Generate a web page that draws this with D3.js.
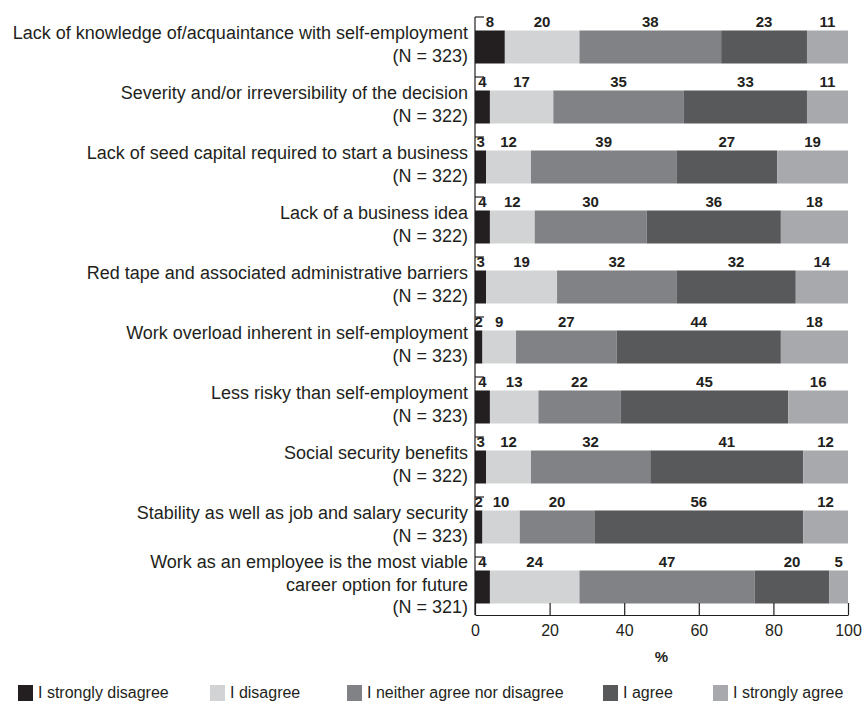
<!DOCTYPE html>
<html><head><meta charset="utf-8">
<script src="https://cdn.jsdelivr.net/npm/d3@7"></script>
<style>body{margin:0;background:#fff;} svg{display:block;font-family:"Liberation Sans",Arial,sans-serif;}</style>
</head><body>
<svg id="c" width="862" height="702"></svg>
<script>
const categories = [
  ["Lack of knowledge of/acquaintance with self-employment","(N = 323)"],
  ["Severity and/or irreversibility of the decision","(N = 322)"],
  ["Lack of seed capital required to start a business","(N = 322)"],
  ["Lack of a business idea","(N = 322)"],
  ["Red tape and associated administrative barriers","(N = 322)"],
  ["Work overload inherent in self-employment","(N = 323)"],
  ["Less risky than self-employment","(N = 323)"],
  ["Social security benefits","(N = 322)"],
  ["Stability as well as job and salary security","(N = 323)"],
  ["Work as an employee is the most viable","career option for future","(N = 321)"]
];
const seriesNames = ["I strongly disagree","I disagree","I neither agree nor disagree","I agree","I strongly agree"];
const stronglyDisagree = [8,4,3,4,3,2,4,3,2,4];
const disagree        = [20,17,12,12,19,9,13,12,10,24];
const neither         = [38,35,39,30,32,27,22,32,20,47];
const agree           = [23,33,27,36,32,44,45,41,56,20];
const stronglyAgree   = [11,11,19,18,14,18,16,12,12,5];
const xTicks = [0,20,40,60,80,100];
const colors = ["#231f20","#d1d3d4","#808285","#58595b","#a7a9ac"];

const series = [stronglyDisagree, disagree, neither, agree, stronglyAgree];
const keys = categories.map((c,i)=>"c"+i);
const rows = keys.map((k,i)=>{const o={key:k}; seriesNames.forEach((s,j)=>o[s]=series[j][i]); return o;});
const stacked = d3.stack().keys(seriesNames)(rows);

const svg = d3.select("#c");
const x = d3.scaleLinear().domain([0,100]).range([475,848]);
const y = d3.scaleBand().domain(keys).range([17,617]).paddingInner(0.45).paddingOuter(0.225);
const step = y.step();

// bars
svg.append("g").selectAll("g").data(stacked).join("g")
  .attr("fill",(d,i)=>colors[i])
  .selectAll("rect").data(d=>d).join("rect")
  .attr("x",d=>x(d[0])).attr("width",d=>x(d[1])-x(d[0]))
  .attr("y",d=>y(d.data.key)).attr("height",y.bandwidth());

// value labels
svg.append("g").selectAll("g").data(stacked).join("g")
  .selectAll("text").data(d=>d.map(v=>({v, key:d.key}))).join("text")
  .attr("x",d=>(x(d.v[0])+x(d.v[1]))/2)
  .attr("y",d=>y(d.v.data.key)-4)
  .attr("text-anchor","middle")
  .attr("font-size",15).attr("font-weight","bold").attr("fill","#231f20")
  .text(d=>d.v.data[d.key]);

// left axis line and boundary ticks
const axisCol = "#231f20";
svg.append("line").attr("x1",x(0)).attr("x2",x(0)).attr("y1",17).attr("y2",615).attr("stroke",axisCol).attr("stroke-width",1.2);
const bounds = keys.map(k=>y(k)-step*y.paddingInner()/2);
svg.append("g").selectAll("line").data(bounds).join("line")
  .attr("x1",x(0)).attr("x2",x(0)+9).attr("y1",d=>d).attr("y2",d=>d)
  .attr("stroke",axisCol).attr("stroke-width",1.2);

// bottom axis
const gx = svg.append("g").attr("transform","translate(0,615)")
  .call(d3.axisBottom(x).tickValues(xTicks).tickSize(-12).tickPadding(10).tickSizeOuter(0));
gx.select(".domain").attr("stroke",axisCol).attr("stroke-width",1.2);
gx.selectAll(".tick line").attr("stroke",axisCol).attr("stroke-width",1.2);
gx.selectAll("text").attr("font-size",16).attr("fill","#231f20").attr("font-family","Liberation Sans, Arial, sans-serif");

svg.append("text").attr("x",x(50)).attr("y",662).attr("text-anchor","middle")
  .attr("font-size",15).attr("font-weight","bold").attr("fill","#231f20").text("%");

// category labels
const lineH = 22.5;
svg.append("g").selectAll("text").data(categories).join("text")
  .attr("text-anchor","end").attr("font-size",18).attr("fill","#231f20")
  .each(function(lines,i){
    const cy = y(keys[i]) + y.bandwidth()/2 + 3.5 - (lines.length-1)/2*lineH;
    d3.select(this).selectAll("tspan").data(lines).join("tspan")
      .attr("x",468).attr("y",(d,j)=>cy + j*lineH).text(d=>d);
  });

// legend
const legX = [18,210,347,603,713];
const lg = svg.append("g").selectAll("g").data(seriesNames).join("g")
  .attr("transform",(d,i)=>`translate(${legX[i]},685)`);
lg.append("rect").attr("width",15).attr("height",16).attr("fill",(d,i)=>colors[i]);
lg.append("text").attr("x",20).attr("y",13).attr("font-size",16).attr("fill","#231f20").text(d=>d);
</script>
</body></html>
